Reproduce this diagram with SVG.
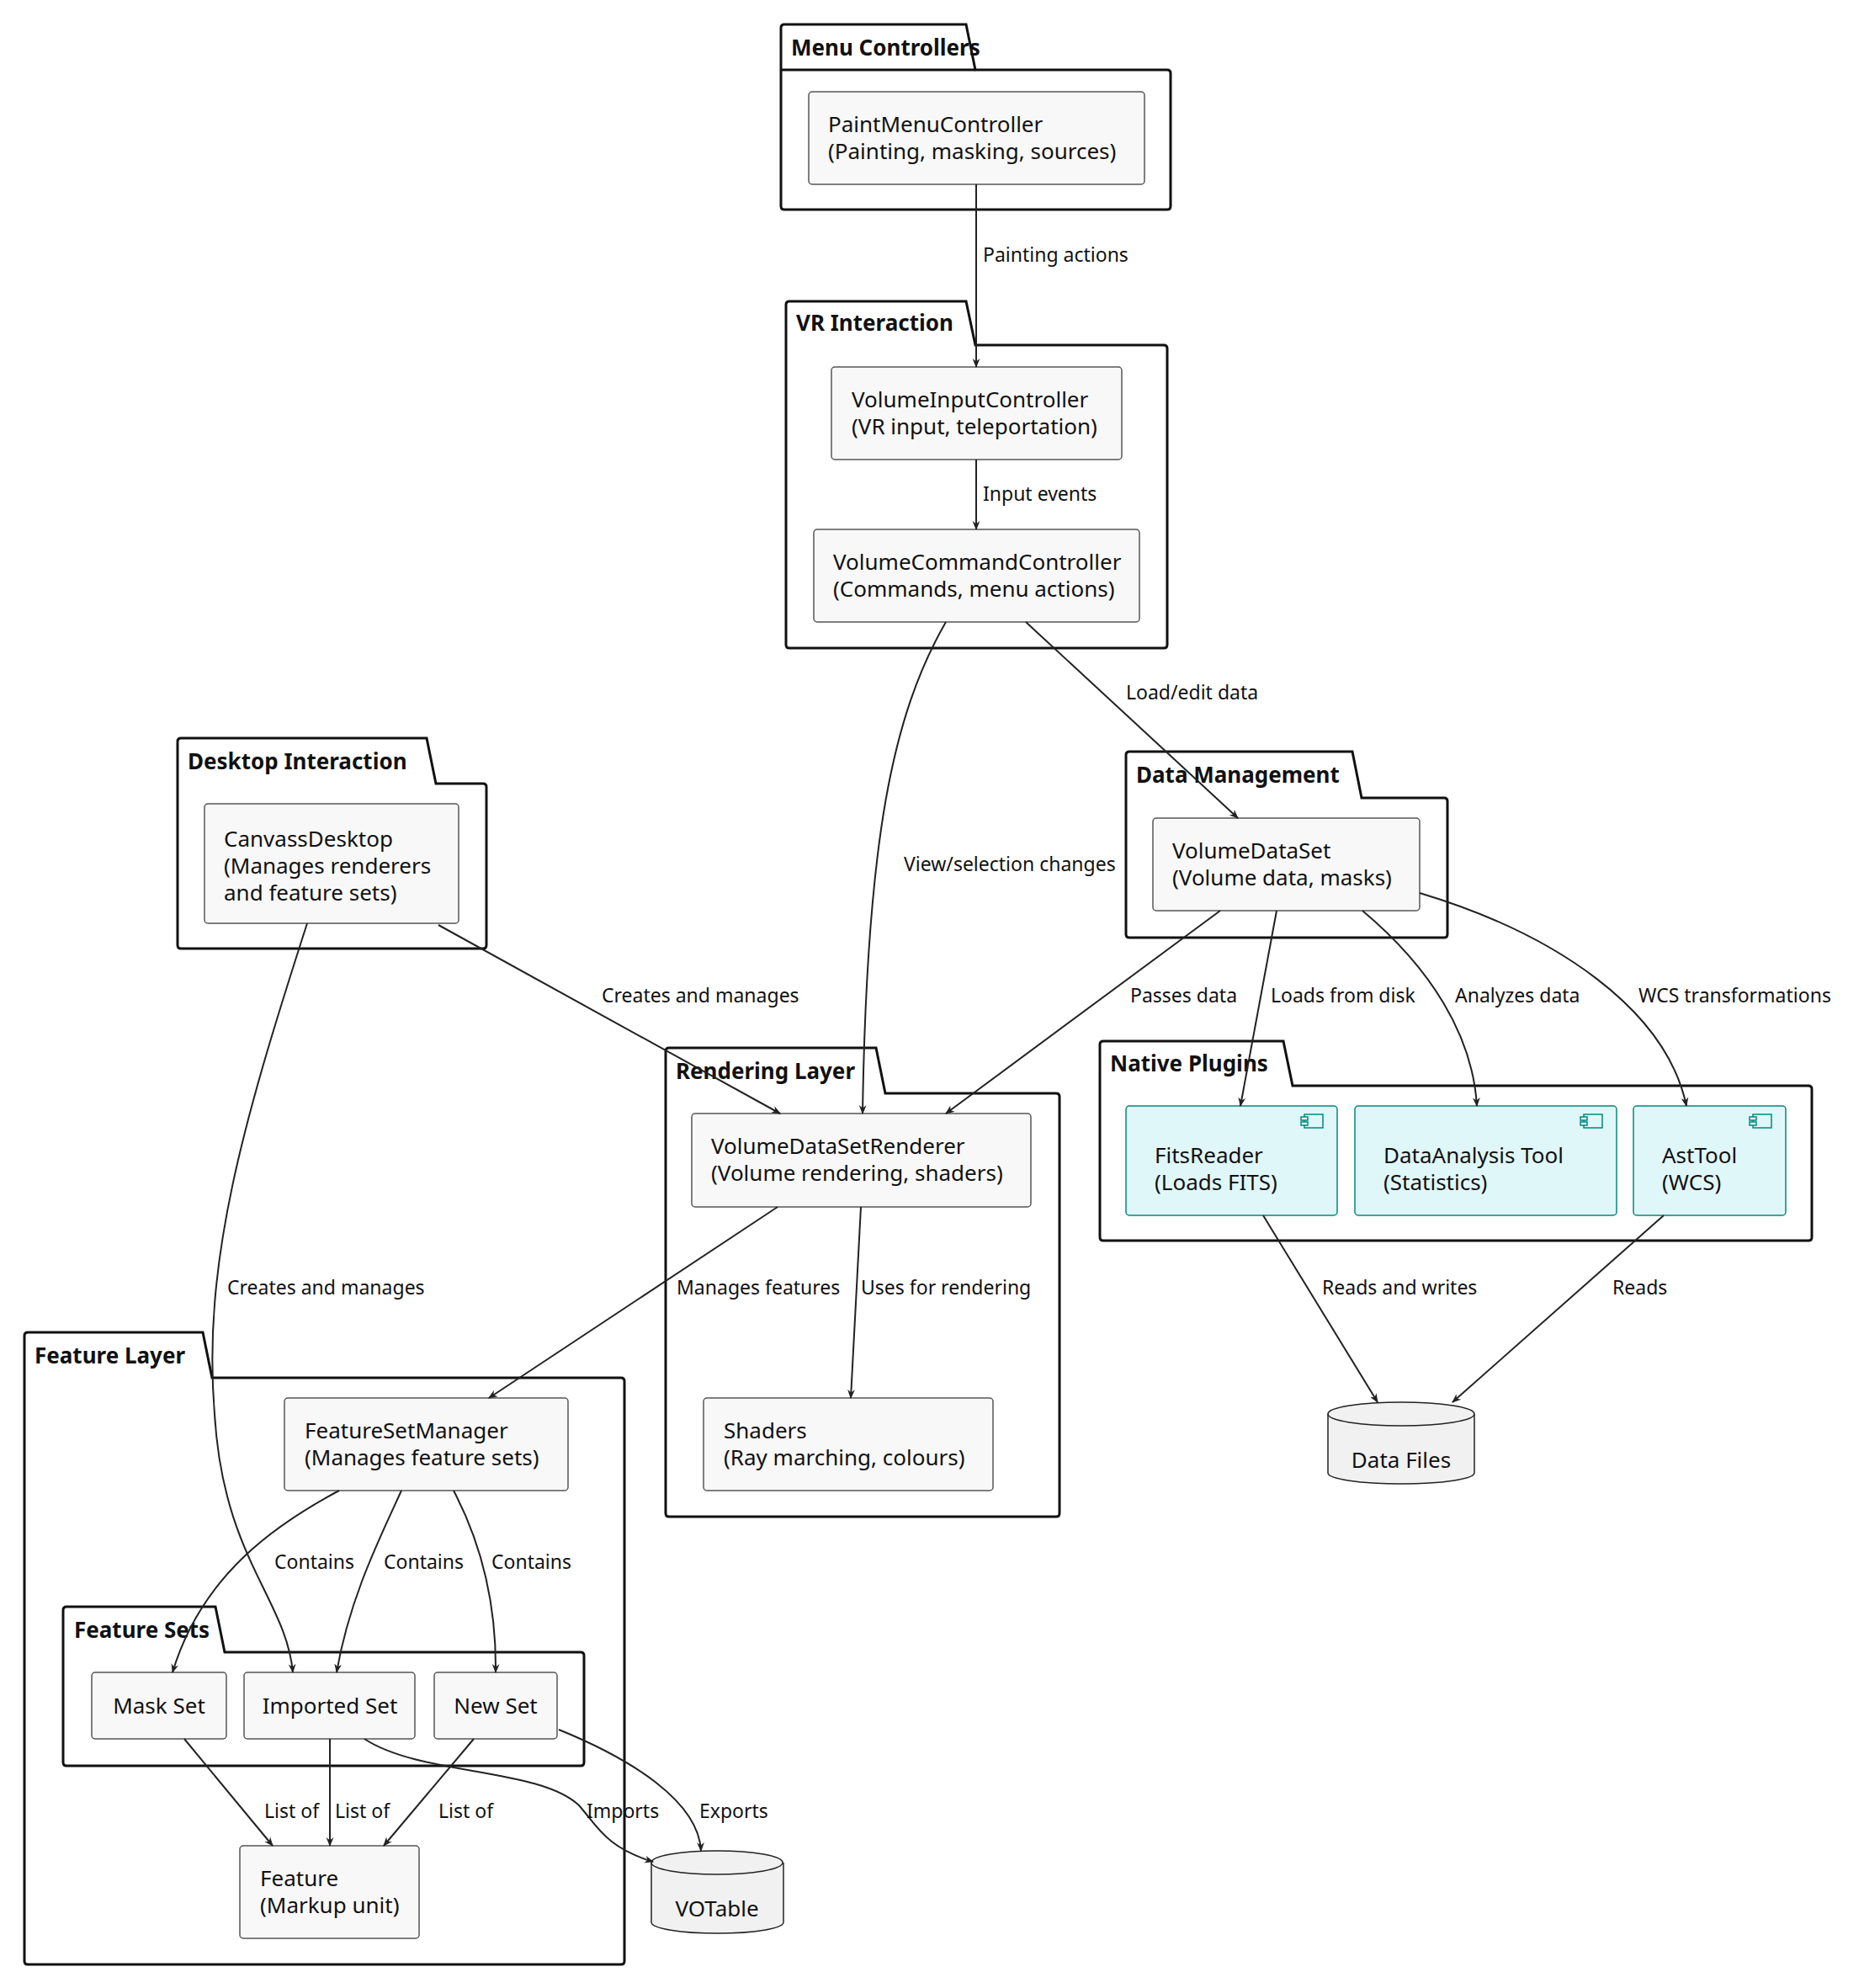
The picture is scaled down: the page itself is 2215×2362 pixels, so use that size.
<svg xmlns="http://www.w3.org/2000/svg" width="2215" height="2362" viewBox="0 0 2215 2362">
<style>
text{font-family:"Noto Sans","Open Sans",sans-serif;fill:#111}
.n{font-size:26px}
.t{font-size:26px;font-weight:bold}
.l{font-size:23px;dominant-baseline:middle}
.pk{fill:#fff;stroke:#111;stroke-width:3}
.nd{fill:#f8f8f8;stroke:#555;stroke-width:1.5}
.pl{fill:#e0f7fa;stroke:#00897b;stroke-width:1.5}
.db{fill:#f1f1f1;stroke:#222;stroke-width:1.5}
.e{fill:none;stroke:#222;stroke-width:2;marker-end:url(#a)}
</style>
<defs>
<marker id="a" viewBox="0 0 20 20" refX="18" refY="10" markerWidth="11" markerHeight="11" orient="auto" markerUnits="userSpaceOnUse"><path d="M0,2 L20,10 L0,18 L6,10 Z" fill="#222"/></marker>
<g id="ci"><rect x="0" y="0" width="22" height="16" fill="#e0f7fa" stroke="#00897b" stroke-width="1.5"/><rect x="-4" y="3" width="8" height="4" fill="#e0f7fa" stroke="#00897b" stroke-width="1.5"/><rect x="-4" y="9" width="8" height="4" fill="#e0f7fa" stroke="#00897b" stroke-width="1.5"/></g>
</defs>

<g id="pkg-menu"><path class="pk" d="M928,83 V33 Q928,29 932,29 H1148 L1159,83 H1387 Q1391,83 1391,87 V245 Q1391,249 1387,249 H932 Q928,249 928,245 Z"/><line x1="928" y1="83" x2="1159" y2="83" stroke="#111" stroke-width="3"/><text class="t" x="940" y="66">Menu Controllers</text></g>
<g id="pkg-vr"><path class="pk" d="M934,410 V362 Q934,358 938,358 H1148 L1159,410 H1383 Q1387,410 1387,414 V766 Q1387,770 1383,770 H938 Q934,770 934,766 Z"/><text class="t" x="946" y="393">VR Interaction</text></g>
<g id="pkg-desktop"><path class="pk" d="M211,931 V881 Q211,877 215,877 H507 L518,931 H574 Q578,931 578,935 V1123 Q578,1127 574,1127 H215 Q211,1127 211,1123 Z"/><text class="t" x="223" y="914">Desktop Interaction</text></g>
<g id="pkg-data"><path class="pk" d="M1338,948 V897 Q1338,893 1342,893 H1607 L1618,948 H1716 Q1720,948 1720,952 V1110 Q1720,1114 1716,1114 H1342 Q1338,1114 1338,1110 Z"/><text class="t" x="1350" y="930">Data Management</text></g>
<g id="pkg-native"><path class="pk" d="M1307,1290 V1241 Q1307,1237 1311,1237 H1525 L1536,1290 H2149 Q2153,1290 2153,1294 V1470 Q2153,1474 2149,1474 H1311 Q1307,1474 1307,1470 Z"/><text class="t" x="1319" y="1273">Native Plugins</text></g>
<g id="pkg-render"><path class="pk" d="M791,1299 V1249 Q791,1245 795,1245 H1041 L1052,1299 H1255 Q1259,1299 1259,1303 V1798 Q1259,1802 1255,1802 H795 Q791,1802 791,1798 Z"/><text class="t" x="803" y="1282">Rendering Layer</text></g>
<g id="pkg-feature"><path class="pk" d="M29,1637 V1587 Q29,1583 33,1583 H241 L252,1637 H738 Q742,1637 742,1641 V2330 Q742,2334 738,2334 H33 Q29,2334 29,2330 Z"/><text class="t" x="41" y="1620">Feature Layer</text></g>
<g id="pkg-sets"><path class="pk" d="M75,1963 V1913 Q75,1909 79,1909 H256 L267,1963 H690 Q694,1963 694,1967 V2094 Q694,2098 690,2098 H79 Q75,2098 75,2094 Z"/><text class="t" x="88" y="1946">Feature Sets</text></g>

<g id="paint"><rect class="nd" x="961" y="109" width="399" height="110" rx="4"/><text class="n" x="984" y="157">PaintMenuController</text><text class="n" x="984" y="189">(Painting, masking, sources)</text></g>
<g id="vic"><rect class="nd" x="988" y="436" width="345" height="110" rx="4"/><text class="n" x="1012" y="484">VolumeInputController</text><text class="n" x="1012" y="516">(VR input, teleportation)</text></g>
<g id="vcc"><rect class="nd" x="967" y="629" width="387" height="110" rx="4"/><text class="n" x="990" y="677">VolumeCommandController</text><text class="n" x="990" y="709">(Commands, menu actions)</text></g>
<g id="canvass"><rect class="nd" x="243" y="955" width="302" height="142" rx="4"/><text class="n" x="266" y="1006">CanvassDesktop</text><text class="n" x="266" y="1038">(Manages renderers</text><text class="n" x="266" y="1070">and feature sets)</text></g>
<g id="vds"><rect class="nd" x="1370" y="972" width="317" height="110" rx="4"/><text class="n" x="1393" y="1020">VolumeDataSet</text><text class="n" x="1393" y="1052">(Volume data, masks)</text></g>
<g id="fits"><rect class="pl" x="1338" y="1314" width="251" height="130" rx="4"/><use href="#ci" x="1550" y="1324"/><text class="n" x="1372" y="1382">FitsReader</text><text class="n" x="1372" y="1414">(Loads FITS)</text></g>
<g id="analysis"><rect class="pl" x="1610" y="1314" width="311" height="130" rx="4"/><use href="#ci" x="1882" y="1324"/><text class="n" x="1644" y="1382">DataAnalysis Tool</text><text class="n" x="1644" y="1414">(Statistics)</text></g>
<g id="ast"><rect class="pl" x="1941" y="1314" width="181" height="130" rx="4"/><use href="#ci" x="2083" y="1324"/><text class="n" x="1975" y="1382">AstTool</text><text class="n" x="1975" y="1414">(WCS)</text></g>
<g id="datafiles"><path class="db" d="M1578,1680 V1750 A87,13 0 0 0 1752,1750 V1680"/><ellipse class="db" cx="1665" cy="1680" rx="87" ry="14"/><text class="n" x="1665" y="1744" text-anchor="middle">Data Files</text></g>
<g id="vdsr"><rect class="nd" x="822" y="1323" width="403" height="111" rx="4"/><text class="n" x="845" y="1371">VolumeDataSetRenderer</text><text class="n" x="845" y="1403">(Volume rendering, shaders)</text></g>
<g id="shaders"><rect class="nd" x="836" y="1661" width="344" height="110" rx="4"/><text class="n" x="860" y="1709">Shaders</text><text class="n" x="860" y="1741">(Ray marching, colours)</text></g>
<g id="fsm"><rect class="nd" x="338" y="1661" width="337" height="110" rx="4"/><text class="n" x="362" y="1709">FeatureSetManager</text><text class="n" x="362" y="1741">(Manages feature sets)</text></g>
<g id="mask"><rect class="nd" x="109" y="1987" width="160" height="79" rx="4"/><text class="n" x="189" y="2036" text-anchor="middle">Mask Set</text></g>
<g id="imported"><rect class="nd" x="290" y="1987" width="203" height="79" rx="4"/><text class="n" x="392" y="2036" text-anchor="middle">Imported Set</text></g>
<g id="newset"><rect class="nd" x="516" y="1987" width="146" height="79" rx="4"/><text class="n" x="589" y="2036" text-anchor="middle">New Set</text></g>
<g id="feature"><rect class="nd" x="285" y="2193" width="213" height="110" rx="4"/><text class="n" x="309" y="2241">Feature</text><text class="n" x="309" y="2273">(Markup unit)</text></g>
<g id="votable"><path class="db" d="M774,2213 V2284 A78,13 0 0 0 931,2284 V2213"/><ellipse class="db" cx="852" cy="2213" rx="78" ry="14"/><text class="n" x="852" y="2277" text-anchor="middle">VOTable</text></g>

<g id="edges">
<path class="e" d="M1160,219 V436"/>
<path class="e" d="M1160,546 V629"/>
<path class="e" d="M1124,739 C1060,850 1030,1000 1025,1323"/>
<path class="e" d="M1219,739 L1471,972"/>
<path class="e" d="M521,1099 L927,1323"/>
<path class="e" d="M365,1097 C290,1330 240,1500 255,1680 C265,1850 340,1900 348,1987"/>
<path class="e" d="M1450,1082 L1124,1323"/>
<path class="e" d="M1517,1082 L1474,1314"/>
<path class="e" d="M1619,1082 C1700,1150 1750,1230 1755,1314"/>
<path class="e" d="M1687,1061 C1850,1110 1980,1200 2004,1314"/>
<path class="e" d="M924,1434 L581,1661"/>
<path class="e" d="M1023,1434 L1011,1661"/>
<path class="e" d="M1501,1444 L1637,1666"/>
<path class="e" d="M1977,1444 L1726,1666"/>
<path class="e" d="M403,1771 C330,1810 240,1870 205,1987"/>
<path class="e" d="M477,1771 C450,1830 415,1900 400,1987"/>
<path class="e" d="M539,1771 C570,1830 590,1900 589,1987"/>
<path class="e" d="M219,2066 L324,2193"/>
<path class="e" d="M392,2066 V2193"/>
<path class="e" d="M563,2066 L456,2193"/>
<path class="e" d="M433,2066 C500,2110 640,2100 688,2145 C710,2170 720,2195 776,2212"/>
<path class="e" d="M664,2055 C750,2090 830,2140 833,2199"/>
<text class="l" x="1168" y="305">Painting actions</text>
<text class="l" x="1168" y="589">Input events</text>
<text class="l" x="1074" y="1029">View/selection changes</text>
<text class="l" x="1338" y="825">Load/edit data</text>
<text class="l" x="715" y="1185">Creates and manages</text>
<text class="l" x="270" y="1532">Creates and manages</text>
<text class="l" x="1343" y="1185">Passes data</text>
<text class="l" x="1510" y="1185">Loads from disk</text>
<text class="l" x="1729" y="1185">Analyzes data</text>
<text class="l" x="1947" y="1185">WCS transformations</text>
<text class="l" x="804" y="1532">Manages features</text>
<text class="l" x="1023" y="1532">Uses for rendering</text>
<text class="l" x="1571" y="1532">Reads and writes</text>
<text class="l" x="1916" y="1532">Reads</text>
<text class="l" x="326" y="1858">Contains</text>
<text class="l" x="456" y="1858">Contains</text>
<text class="l" x="584" y="1858">Contains</text>
<text class="l" x="314" y="2154">List of</text>
<text class="l" x="398" y="2154">List of</text>
<text class="l" x="521" y="2154">List of</text>
<text class="l" x="697" y="2154">Imports</text>
<text class="l" x="831" y="2154">Exports</text>
</g>
</svg>
